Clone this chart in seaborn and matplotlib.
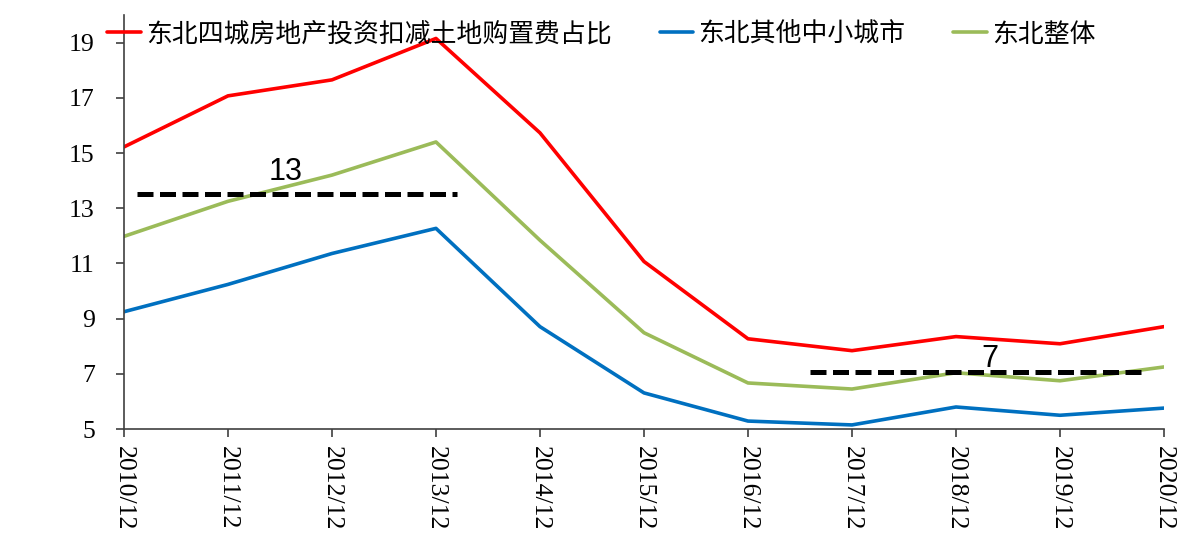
import matplotlib
matplotlib.use("Agg")
import matplotlib.pyplot as plt
import seaborn as sns
import pandas as pd

categories = ["2010/12", "2011/12", "2012/12", "2013/12", "2014/12", "2015/12",
              "2016/12", "2017/12", "2018/12", "2019/12", "2020/12"]
series_names = ["东北四城房地产投资扣减土地购置费占比", "东北其他中小城市", "东北整体"]
red_values = [15.22, 17.07, 17.65, 19.15, 15.73, 11.07, 8.27, 7.84, 8.35, 8.09, 8.71]
blue_values = [9.25, 10.24, 11.36, 12.27, 8.71, 6.31, 5.29, 5.15, 5.80, 5.50, 5.76]
green_values = [11.98, 13.25, 14.20, 15.40, 11.84, 8.49, 6.67, 6.45, 7.04, 6.75, 7.25]
colors = ["#FF0000", "#0070C0", "#9BBB59"]

ref_levels = [13.5, 7.05]
ref_starts = [0.13, 6.6]
ref_ends = [3.2, 9.83]
ref_labels = ["13", "7"]
ref_label_x = [1.55, 8.33]
ref_label_y = [14.3, 7.55]

y_ticks = [5, 7, 9, 11, 13, 15, 17, 19]

sns.set_theme(style="white")
plt.rcParams['font.family'] = ['Noto Sans CJK SC', 'DejaVu Sans']

rows = []
for name, vals in zip(series_names, [red_values, blue_values, green_values]):
    for c, v in zip(categories, vals):
        rows.append({"date": c, "value": v, "series": name})
df = pd.DataFrame(rows)

fig = plt.figure(figsize=(12, 5.35), dpi=100)
ax = fig.add_axes([0.1033, 0.198, 0.8667, 0.774])
sns.lineplot(data=df, x="date", y="value", hue="series", hue_order=series_names,
             palette=colors, linewidth=2.6, ax=ax, sort=False)

for lvl, s, e in zip(ref_levels, ref_starts, ref_ends):
    ax.hlines(lvl, s, e, colors="black", linestyles=(0, (3.2, 1.3)), linewidth=3.6)
for lab, lx, ly in zip(ref_labels, ref_label_x, ref_label_y):
    ax.text(lx, ly, lab, fontsize=22, family=["Liberation Sans"], ha="center", va="center",
            color="black")

ax.set_xlim(0, len(categories) - 1)
ax.set_ylim(5, 20)
ax.set_yticks(y_ticks)
ax.set_xticks(range(len(categories)))
ax.set_xticklabels(categories, rotation=270, family=["Liberation Serif"], fontsize=18.5)
ax.set_yticklabels([str(t) for t in y_ticks], family=["Liberation Serif"], fontsize=18.5)
ax.set_xlabel("")
ax.set_ylabel("")
for sp in ["top", "right"]:
    ax.spines[sp].set_visible(False)
for sp in ["left", "bottom"]:
    ax.spines[sp].set_color("#404040")
    ax.spines[sp].set_linewidth(1.2)
ax.tick_params(axis="both", which="both", direction="out", length=6, width=1.2,
               color="#404040", left=True, bottom=True, labelcolor="black")
ax.tick_params(axis="y", pad=15)
ax.tick_params(axis="x", pad=6)

leg = ax.legend(loc="center left", bbox_to_anchor=(-0.016, 0.954), ncol=3, frameon=False,
                fontsize=18.6, handlelength=1.3, handletextpad=0.2, columnspacing=1.85,
                borderaxespad=0, borderpad=0)
for t in leg.get_texts():
    t.set_color("black")

fig.savefig("out.png", dpi=100, facecolor="white")
